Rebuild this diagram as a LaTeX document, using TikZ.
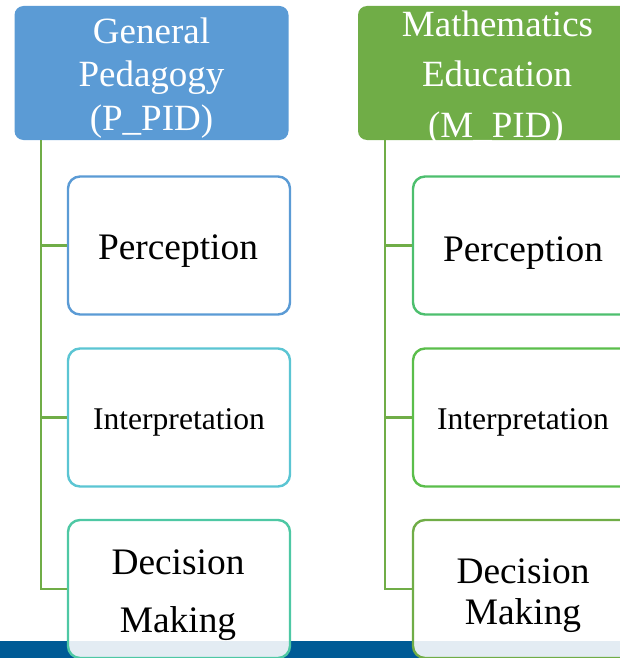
\documentclass[tikz,border=0pt]{standalone}
\usepackage{fontspec}
\setmainfont{Liberation Serif}
\definecolor{hblue}{HTML}{5B9BD5}
\definecolor{hgreen}{HTML}{70AD47}
\definecolor{bandblue}{HTML}{005B96}
\definecolor{lcA}{HTML}{5B9BD5}
\definecolor{lcB}{HTML}{5BC5D3}
\definecolor{lcC}{HTML}{4EC8A4}
\definecolor{rcA}{HTML}{4DBF6E}
\definecolor{rcB}{HTML}{5BBE4B}
\definecolor{rcC}{HTML}{70AD47}
\tikzset{
  headbox/.style={rectangle, rounded corners=9pt, inner sep=0pt, minimum width=274pt, minimum height=134pt},
  headtxt/.style={anchor=base, text=white, inner sep=0pt, font=\fontsize{37}{43}\selectfont},
  childbox/.style={rectangle, rounded corners=12pt, line width=2.4pt, fill=white, fill opacity=0.89, inner sep=0pt, minimum width=222pt, minimum height=138pt},
  bigtxt/.style={anchor=base, inner sep=0pt, font=\fontsize{37.4}{43}\selectfont},
  midtxt/.style={anchor=base, inner sep=0pt, font=\fontsize{31.6}{38}\selectfont},
  conn/.style={draw=hgreen, line width=2.8pt}
}
\begin{document}
\begin{tikzpicture}[x=1pt,y=-1pt]
\useasboundingbox (0,0) rectangle (620,658);
\clip (0,0) rectangle (620,658);
% bottom band
\fill[bandblue] (0,641) rectangle (620,658);

% headers
\node[headbox, fill=hblue] (lh) at (151.5,73) {};
\node[headbox, fill=hgreen] (rh) at (495,73) {};
\node[headtxt] (lh1) at (151.5,44) {General};
\node[headtxt] (lh2) at (151.5,87) {Pedagogy};
\node[headtxt] (lh3) at (151.5,130) {(P\_PID)};
\begin{scope}
\clip (rh.north west) rectangle (rh.south east);
\node[headtxt] (rh1) at (497.5,37) {Mathematics};
\node[headtxt] (rh2) at (497,87) {Education};
\node[headtxt] (rh3) at (496,138) {(M\_PID)};
\end{scope}

% trunk coordinates
\coordinate (lt) at (41,140);
\coordinate (rt) at (385,140);

% child boxes
\node[childbox, draw=lcA] (lp) at (179,245.5) {};
\node[childbox, draw=lcB] (li) at (179,417.5) {};
\node[childbox, draw=lcC] (ld) at (179,589) {};
\node[childbox, draw=rcA] (rp) at (524,245.5) {};
\node[childbox, draw=rcB] (ri) at (524,417.5) {};
\node[childbox, draw=rcC] (rd) at (524,589) {};

% connectors
\draw[conn] (lt) |- (ld.west);
\draw[conn] (lp.west -| lt) -- (lp.west);
\draw[conn] (li.west -| lt) -- (li.west);
\draw[conn] (rt) |- (rd.west);
\draw[conn] (rp.west -| rt) -- (rp.west);
\draw[conn] (ri.west -| rt) -- (ri.west);

% child texts
\node[bigtxt] (lpt) at (178,259) {Perception};
\node[midtxt] (lit) at (179,429) {Interpretation};
\node[bigtxt] (ldt1) at (178,574) {Decision};
\node[bigtxt] (ldt2) at (178,632) {Making};
\node[bigtxt] (rpt) at (523,261) {Perception};
\node[midtxt] (rit) at (523,429) {Interpretation};
\node[bigtxt] (rdt1) at (523,583) {Decision};
\node[bigtxt] (rdt2) at (523,624) {Making};
\end{tikzpicture}
\end{document}
